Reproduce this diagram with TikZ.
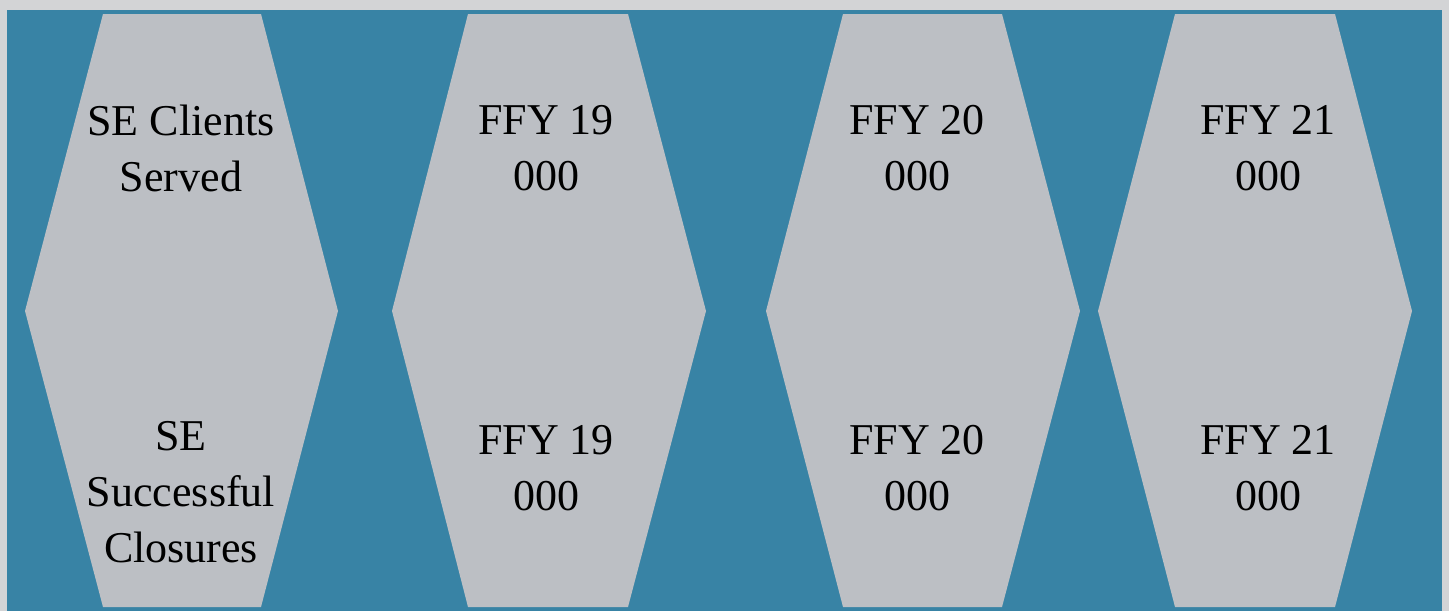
\documentclass[tikz,border=0pt]{standalone}
\usepackage{fontspec}
\setmainfont{Liberation Serif}
\definecolor{frame}{RGB}{211,212,214}
\definecolor{sea}{RGB}{56,131,165}
\definecolor{hexgray}{RGB}{188,191,196}
\begin{document}
\begin{tikzpicture}[x=0.5pt, y=-0.5pt,
                        hex/.style = {fill=hexgray},
                        lbl/.style = {align=center, inner sep=0pt, font=\fontsize{22}{28}\selectfont}]
                        \fill[frame] (0,0) rectangle (1449,611);
                        \fill[sea] (7,10) rectangle (1442,611);
                        \foreach \a/\b/\c/\d in {25/103/261/338, 392/468/628/706, 766/843/1002/1080, 1098/1175/1335/1412}
                            \fill[hex] (\a,311) -- (\b,14) -- (\c,14) -- (\d,311) -- (\c,607) -- (\b,607) -- cycle;

                        \node[lbl] (served) at (181,148) {SE Clients\\Served};
                        \node[lbl] (closed) at (181,492) {SE\\Successful\\Closures};
                        \node[lbl] (s19) at (546,148) {FFY 19\\000};
                        \node[lbl] (c19) at (546,468) {FFY 19\\000};
                        \node[lbl] (s20) at (917,148) {FFY 20\\000};
                        \node[lbl] (c20) at (917,468) {FFY 20\\000};
                        \node[lbl] (s21) at (1268,148) {FFY 21\\000};
                        \node[lbl] (c21) at (1268,468) {FFY 21\\000};
                    \end{tikzpicture}
\end{document}
